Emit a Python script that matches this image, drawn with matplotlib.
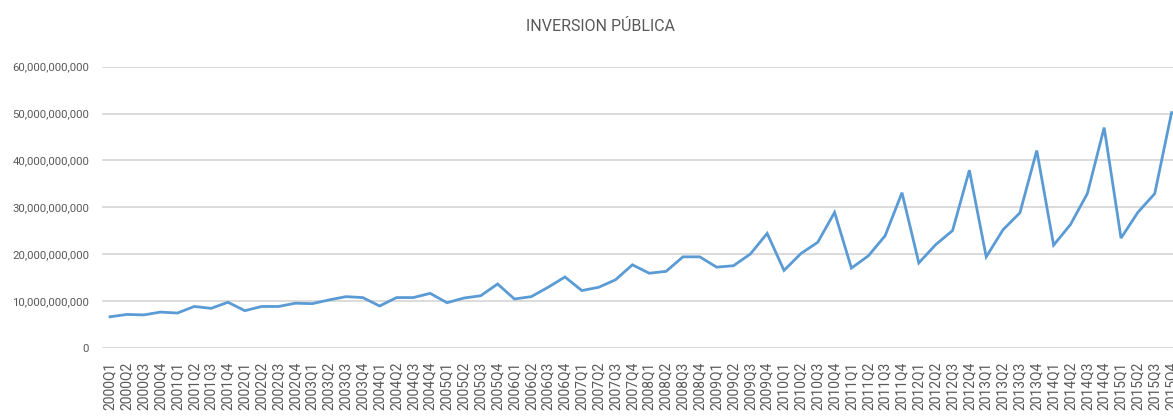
import matplotlib
matplotlib.use("Agg")
import matplotlib.pyplot as plt
from matplotlib.ticker import FuncFormatter

years = list(range(2000, 2016))
quarters = ["Q1", "Q2", "Q3", "Q4"]
labels = [f"{y}{q}" for y in years for q in quarters]

# values in billions
values_bn = [
    6.6, 7.1, 7.0, 7.6,
    7.4, 8.8, 8.4, 9.7,
    7.9, 8.8, 8.8, 9.5,
    9.4, 10.2, 10.9, 10.7,
    8.9, 10.7, 10.7, 11.6,
    9.6, 10.6, 11.1, 13.6,
    10.4, 10.9, 12.9, 15.1,
    12.2, 12.9, 14.5, 17.7,
    15.9, 16.3, 19.4, 19.4,
    17.2, 17.5, 20.0, 24.4,
    16.5, 20.1, 22.5, 28.9,
    17.0, 19.6, 23.9, 33.1,
    18.1, 22.0, 25.0, 37.9,
    19.4, 25.2, 28.8, 42.1,
    21.9, 26.3, 32.9, 47.0,
    23.4, 28.9, 32.9, 50.2,
]
values = [v * 1e9 for v in values_bn]
yticks = [0, 10e9, 20e9, 30e9, 40e9, 50e9, 60e9]

fam = ["Roboto", "DejaVu Sans"]
text_color = "#595959"

fig = plt.figure(figsize=(11.73, 4.19), dpi=100)
ax = fig.add_axes([101.6 / 1173, 0.1702, 1078.4 / 1173, 0.6706])
x = list(range(len(values)))
ax.plot(x, values, color="#5B9BD5", linewidth=2.0, solid_joinstyle="miter", zorder=3)

ax.set_xlim(-0.5, len(values) - 0.5)
ax.set_ylim(0, 60e9)
ax.set_yticks(yticks)
ax.yaxis.set_major_formatter(FuncFormatter(lambda v, p: f"{int(round(v)):,}"))
ax.set_xticks(x)
ax.set_xticklabels(labels, rotation=90, family=fam, fontsize=10, color=text_color)
for t in ax.get_yticklabels():
    t.set_family(fam)
    t.set_fontsize(8.2)
    t.set_color(text_color)
ax.tick_params(axis="both", length=0)
ax.tick_params(axis="y", pad=9)
ax.tick_params(axis="x", pad=10)
ax.grid(axis="y", color="#D9D9D9", linewidth=1.3)
ax.set_axisbelow(True)
for s in ax.spines.values():
    s.set_visible(False)

fig.text(0.512, 0.936, "INVERSION PÚBLICA", ha="center", va="center",
         family=fam, fontsize=11.5, color=text_color)

fig.savefig("out.png", dpi=100)
